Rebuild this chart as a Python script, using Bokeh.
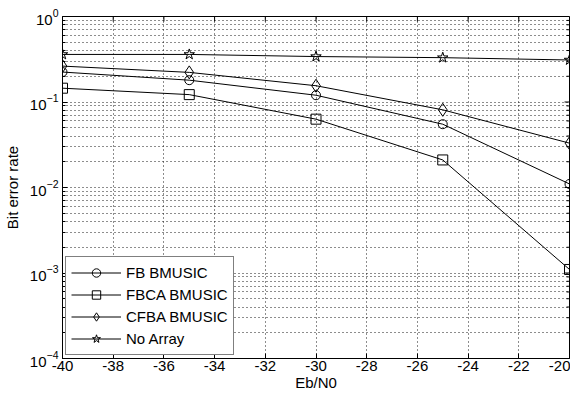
import math
from bokeh.plotting import figure
from bokeh.models import (FixedTicker, LogTickFormatter, NumeralTickFormatter, Legend)
from bokeh.embed import file_html
from bokeh.resources import INLINE

# ---- data ----
ebn0 = [-40, -35, -30, -25, -20]
fb_bmusic = [0.224, 0.18, 0.12, 0.055, 0.011]
fbca_bmusic = [0.145, 0.122, 0.063, 0.021, 0.0011]
cfba_bmusic = [0.263, 0.222, 0.155, 0.081, 0.033]
no_array = [0.36, 0.36, 0.34, 0.33, 0.31]

x_ticks = [-40, -38, -36, -34, -32, -30, -28, -26, -24, -22, -20]
y_ticks = [1e-4, 1e-3, 1e-2, 1e-1, 1e0]
y_minor = [m * 10.0 ** e for e in range(-4, 0) for m in range(2, 10)]

X_MIN, X_MAX = -40, -20
Y_MIN, Y_MAX = 1e-4, 1e0

FONT = "Liberation Sans"
FS = "15px"

p = figure(width=570, height=393, y_axis_type="log",
           x_range=(X_MIN, X_MAX), y_range=(Y_MIN, Y_MAX),
           output_backend="svg", toolbar_location=None,
           min_border_left=59, min_border_right=1, min_border_top=16,
           min_border_bottom=26)

p.background_fill_color = "white"
p.border_fill_color = "white"
p.outline_line_color = "black"
p.outline_line_width = 1

xt = FixedTicker(ticks=x_ticks)
yt = FixedTicker(ticks=y_ticks, minor_ticks=y_minor)

p.xaxis.ticker = xt
p.xaxis.formatter = NumeralTickFormatter(format="0")
p.yaxis.ticker = yt
p.yaxis.formatter = LogTickFormatter()

for ax in (p.xaxis[0], p.yaxis[0]):
    ax.axis_line_color = "black"
    ax.major_tick_line_color = "black"
    ax.minor_tick_line_color = "black"
    ax.major_tick_in = 5
    ax.major_tick_out = 0
    ax.minor_tick_in = 3
    ax.minor_tick_out = 0
    ax.major_label_text_font = FONT
    ax.major_label_text_font_size = FS
    ax.major_label_text_color = "black"
    ax.axis_label_text_font = FONT
    ax.axis_label_text_font_size = FS
    ax.axis_label_text_font_style = "normal"
    ax.axis_label_text_color = "black"

p.xaxis.axis_label = "Eb/N0"
p.yaxis.axis_label = "Bit error rate"
p.xaxis.major_label_standoff = 2
p.xaxis.axis_label_standoff = 0
p.yaxis.major_label_standoff = 4
p.yaxis.axis_label_standoff = 6

# top and right tick marks (MATLAB box style), drawn as screen-length rays
p.ray(x=x_ticks, y=[Y_MAX] * len(x_ticks), length=5, angle=-math.pi / 2,
      length_units="screen", line_color="black", line_width=1)
p.ray(x=[X_MAX] * len(y_ticks), y=y_ticks, length=5, angle=math.pi,
      length_units="screen", line_color="black", line_width=1)
p.ray(x=[X_MAX] * len(y_minor), y=y_minor, length=3, angle=math.pi,
      length_units="screen", line_color="black", line_width=1)

# grids (MATLAB dotted)
for g in (p.xgrid, p.ygrid):
    g.grid_line_color = "#1a1a1a"
    g.grid_line_dash = "1 3"
    g.grid_line_width = 1
p.ygrid.minor_grid_line_color = "#1a1a1a"
p.ygrid.minor_grid_line_dash = "1 3"
p.ygrid.minor_grid_line_width = 1

series = [
    ("FB BMUSIC", fb_bmusic, "circle", 9),
    ("FBCA BMUSIC", fbca_bmusic, "square", 10),
    ("CFBA BMUSIC", cfba_bmusic, "diamond", 13),
    ("No Array", no_array, "star", 11),
]

items = []
for name, ys, marker, size in series:
    r1 = p.line(ebn0, ys, line_color="black", line_width=1)
    r2 = p.scatter(ebn0, ys, marker=marker, size=size, fill_color=None,
                   line_color="black", line_width=1)
    items.append((name, [r1, r2]))

legend = Legend(items=items, location="bottom_left")
legend.label_text_font = FONT
legend.label_text_font_size = FS
legend.label_text_color = "black"
legend.glyph_width = 50
legend.glyph_height = 21
legend.label_height = 21
legend.label_standoff = 5
legend.spacing = 1
legend.padding = 5
legend.margin = 3
legend.border_line_color = "black"
legend.border_line_width = 1
legend.background_fill_color = "white"
legend.background_fill_alpha = 1
p.add_layout(legend)

open("out.html", "w").write(file_html(p, INLINE))
